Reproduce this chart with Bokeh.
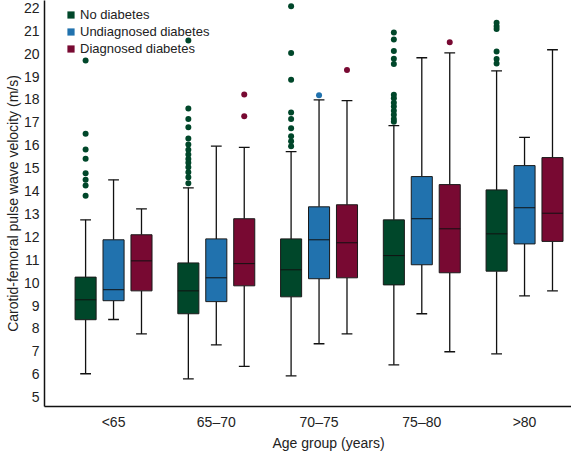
from bokeh.plotting import figure
from bokeh.models import (ColumnDataSource, FixedTicker, Legend, LegendItem, Title, Range1d)
from bokeh.embed import file_html
from bokeh.resources import INLINE

ages = ["<65", "65\u201370", "70\u201375", "75\u201380", ">80"]
series = ["No diabetes", "Undiagnosed diabetes", "Diagnosed diabetes"]
colors = ["#00472a", "#2172ae", "#780932"]

no_low = [6.02, 5.80, 5.93, 6.41, 6.89]
no_q1 = [8.38, 8.64, 9.38, 9.90, 10.50]
no_med = [9.25, 9.64, 10.56, 11.18, 12.13]
no_q3 = [10.24, 10.86, 11.91, 12.74, 14.05]
no_high = [12.74, 14.14, 15.72, 16.86, 19.25]
no_out = [
    [13.79, 14.24, 14.49, 14.78, 15.41, 15.81, 16.50, 19.70],
    [14.34, 14.60, 14.82, 15.04, 15.23, 15.40, 15.59, 15.80, 16.03, 16.29, 16.79, 17.14, 17.60, 20.57],
    [15.96, 16.17, 16.39, 16.74, 17.15, 17.43, 18.86, 20.03, 22.07],
    [17.03, 17.15, 17.33, 17.51, 17.69, 17.86, 18.05, 18.20, 19.55, 19.78, 20.11, 20.62, 20.92],
    [19.57, 19.76, 20.09, 21.08, 21.20, 21.35],
]

und_low = [8.39, 7.28, 7.33, 8.64, 9.42]
und_q1 = [9.21, 9.17, 10.17, 10.78, 11.69]
und_med = [9.69, 10.21, 11.87, 12.79, 13.27]
und_q3 = [11.87, 11.91, 13.31, 14.63, 15.11]
und_high = [14.49, 15.96, 17.98, 19.82, 16.34]
und_out = [[], [], [18.18], [], []]

dia_low = [7.76, 6.34, 7.76, 6.98, 9.64]
dia_q1 = [9.64, 9.86, 10.21, 10.43, 11.80]
dia_med = [10.95, 10.83, 11.74, 12.35, 13.03]
dia_q3 = [12.09, 12.79, 13.40, 14.28, 15.46]
dia_high = [13.22, 15.91, 17.95, 20.03, 20.17]
dia_out = [[], [18.21, 17.27], [19.29], [20.50], []]

y_ticks = list(range(5, 23))

stats = [
    (no_low, no_q1, no_med, no_q3, no_high, no_out),
    (und_low, und_q1, und_med, und_q3, und_high, und_out),
    (dia_low, dia_q1, dia_med, dia_q3, dia_high, dia_out),
]

FONT = "Liberation Sans"
offsets = [-0.272, 0.0, 0.272]
box_w = 0.205
cap_w = 0.105

p = figure(width=571, height=451, output_backend="svg", toolbar_location=None,
           x_range=Range1d(-0.672, 4.457), y_range=Range1d(4.59, 22.32),
           min_border_left=44, min_border_right=0, min_border_top=0, min_border_bottom=45)
p.outline_line_color = None
p.xgrid.grid_line_color = None
p.ygrid.grid_line_color = None
p.background_fill_color = "white"

legend_items = []
for si, (lo, q1, med, q3, hi, outs) in enumerate(stats):
    xs = [i + offsets[si] for i in range(len(ages))]
    src = ColumnDataSource(dict(x=xs, lo=lo, q1=q1, med=med, q3=q3, hi=hi,
                                xl=[x - box_w / 2 for x in xs], xr=[x + box_w / 2 for x in xs],
                                cl=[x - cap_w / 2 for x in xs], cr=[x + cap_w / 2 for x in xs]))
    p.segment(x0="x", y0="q3", x1="x", y1="hi", source=src, line_color="#111111", line_width=1.3)
    p.segment(x0="x", y0="lo", x1="x", y1="q1", source=src, line_color="#111111", line_width=1.3)
    p.segment(x0="cl", y0="hi", x1="cr", y1="hi", source=src, line_color="#111111", line_width=1.3)
    p.segment(x0="cl", y0="lo", x1="cr", y1="lo", source=src, line_color="#111111", line_width=1.3)
    p.vbar(x="x", width=box_w, top="q3", bottom="q1", source=src,
           fill_color=colors[si], line_color="#1a1a1a", line_width=1)
    p.segment(x0="xl", y0="med", x1="xr", y1="med", source=src, line_color="#111111", line_width=1)
    ox, oy = [], []
    for i, vals in enumerate(outs):
        for v in vals:
            ox.append(xs[i])
            oy.append(v)
    p.scatter(x=ox, y=oy, size=6, marker="circle", fill_color=colors[si], line_color=None)
    dummy = p.rect(x=[-50], y=[-50], width=1, height=1, fill_color=colors[si], line_color=None)
    legend_items.append(LegendItem(label=series[si], renderers=[dummy]))

legend = Legend(items=legend_items, location=(22, 406 - 56), orientation="vertical",
                glyph_width=9, glyph_height=9, label_standoff=5, label_height=16, spacing=1,
                padding=0, margin=0, border_line_color=None, background_fill_alpha=0,
                label_text_font=FONT, label_text_font_size="13px", label_text_color="#222222")
p.add_layout(legend)

p.xaxis.ticker = FixedTicker(ticks=list(range(len(ages))))
p.xaxis.major_label_overrides = {i: a for i, a in enumerate(ages)}
p.yaxis.ticker = FixedTicker(ticks=y_ticks)
for ax in (p.xaxis, p.yaxis):
    ax.axis_line_color = "#111111"
    ax.axis_line_width = 1.5
    ax.major_tick_line_color = None
    ax.minor_tick_line_color = None
    ax.major_tick_out = 0
    ax.major_tick_in = 0
    ax.major_label_text_font = FONT
    ax.major_label_text_font_size = "14px"
    ax.major_label_text_color = "#222222"
p.xaxis.major_label_standoff = 7
p.yaxis.major_label_standoff = 5

p.yaxis.axis_label = "Carotid-femoral pulse wave velocity (m/s)"
p.yaxis.axis_label_standoff = 0
p.yaxis.axis_label_text_font = FONT
p.yaxis.axis_label_text_font_size = "14px"
p.yaxis.axis_label_text_font_style = "normal"
p.yaxis.axis_label_text_color = "#222222"

p.add_layout(Title(text="Age group (years)", align="left", offset=228, standoff=0,
                   text_font=FONT, text_font_size="14px", text_font_style="normal",
                   text_color="#222222"), "below")

open("out.html", "w").write(file_html(p, INLINE))
